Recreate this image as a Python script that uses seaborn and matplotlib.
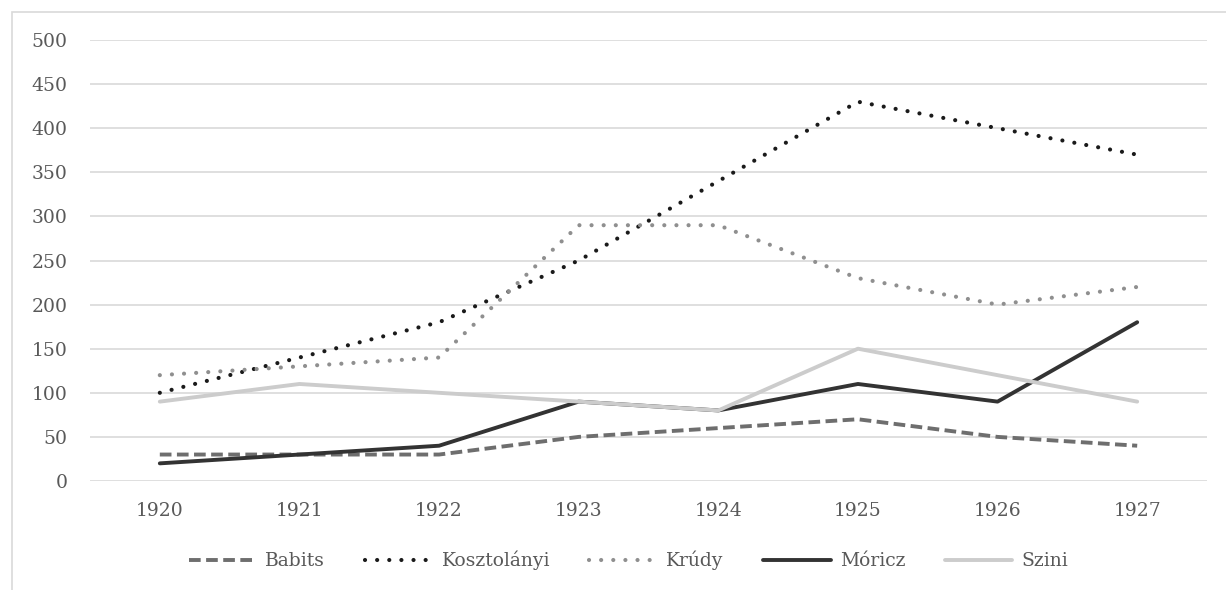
import pandas as pd
import matplotlib.pyplot as plt
import seaborn as sns
from matplotlib.patches import Rectangle

years = ['1920', '1921', '1922', '1923', '1924', '1925', '1926', '1927']
babits = [30, 30, 30, 50, 60, 70, 50, 40]
kosztolanyi = [100, 140, 180, 250, 340, 430, 400, 370]
krudy = [120, 130, 140, 290, 290, 230, 200, 220]
moricz = [20, 30, 40, 90, 80, 110, 90, 180]
szini = [90, 110, 100, 90, 80, 150, 120, 90]
y_ticks = [0, 50, 100, 150, 200, 250, 300, 350, 400, 450, 500]

series = {
    'Babits': babits,
    'Kosztolányi': kosztolanyi,
    'Krúdy': krudy,
    'Móricz': moricz,
    'Szini': szini,
}

# line look per author (colour, dash pattern, width)
styles = {
    'Babits': dict(color='#6e6e6e', linestyle=(0, (3.0, 1.4)), linewidth=2.8),
    'Kosztolányi': dict(color='#1a1a1a', linestyle=(0, (0.01, 2.9)), linewidth=3.0,
                        dash_capstyle='round'),
    'Krúdy': dict(color='#8f8f8f', linestyle=(0, (0.01, 2.9)), linewidth=3.0,
                  dash_capstyle='round'),
    'Móricz': dict(color='#333333', linestyle='-', linewidth=2.8),
    'Szini': dict(color='#cccccc', linestyle='-', linewidth=2.8),
}

sns.set_theme(style='white')
plt.rcParams['font.family'] = ['DejaVu Serif']

fig = plt.figure(figsize=(12.26, 5.90), dpi=100)
ax = fig.add_axes([90 / 1226, 109 / 590, 1117 / 1226, 441 / 590])

# light frame around the chart area
fig.patches.append(Rectangle((12 / 1226, -0.1), 1.2, (590 - 12) / 590 + 0.1,
                             transform=fig.transFigure, fill=False,
                             edgecolor='#d9d9d9', linewidth=1.2))

for name, values in series.items():
    df = pd.DataFrame({'year': years, 'value': values})
    sns.lineplot(data=df, x='year', y='value', ax=ax, label=name, **styles[name])

ax.set_xlim(-0.5, len(years) - 0.5)
ax.set_ylim(0, 500)
ax.set_yticks(y_ticks)
ax.yaxis.grid(True, color='#d9d9d9', linewidth=1.2)
ax.xaxis.grid(False)
ax.set_axisbelow(True)
for s in ax.spines.values():
    s.set_visible(False)
ax.set_xlabel('')
ax.set_ylabel('')
ax.tick_params(axis='both', length=0, labelsize=13.5, labelcolor='#595959')
ax.tick_params(axis='x', pad=15)
ax.tick_params(axis='y', pad=16)

ax.legend(loc='center', bbox_to_anchor=(0.5 + (628 - 648) / 1117, -0.18), ncol=5,
          frameon=False, fontsize=13.5, handlelength=3.6, handletextpad=0.5,
          columnspacing=2.1, labelcolor='#595959')

fig.savefig('out.png', dpi=100, facecolor='white')
